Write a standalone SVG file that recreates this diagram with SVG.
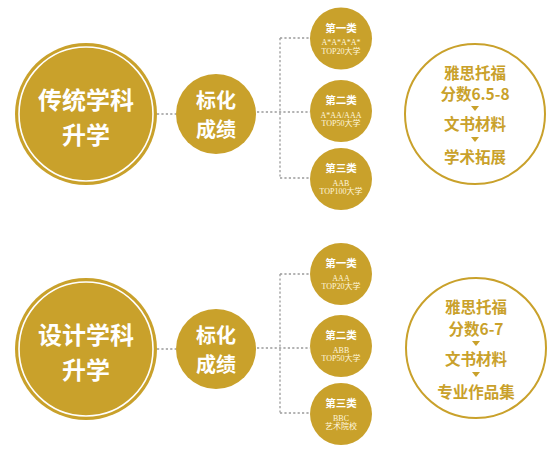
<svg xmlns="http://www.w3.org/2000/svg" width="560" height="454" viewBox="0 0 560 454">
<style>
.gold{fill:#C9A12B}
.ring{fill:none;stroke:#FFFFFF;stroke-width:1.6}
.outline{fill:#FFFFFF;stroke:#C9A12B;stroke-width:2}
.dot{fill:none;stroke:#9A9A9A;stroke-width:1.3;stroke-dasharray:2.2 2.2}
.big{font-family:"Noto Sans CJK SC",sans-serif;font-weight:700;font-size:24px;fill:#FFFFFF;text-anchor:middle;dominant-baseline:central}
.mid{font-family:"Noto Sans CJK SC",sans-serif;font-weight:700;font-size:20px;fill:#FFFFFF;text-anchor:middle;dominant-baseline:central}
.st{font-family:"Noto Sans CJK SC",sans-serif;font-weight:700;font-size:10.5px;fill:#FFFFFF;text-anchor:middle;dominant-baseline:central}
.ss{font-family:"Liberation Serif","Noto Sans CJK SC",serif;font-size:8px;fill:#FFF6DD;text-anchor:middle;dominant-baseline:central}
.rt{font-family:"Noto Sans CJK SC",sans-serif;font-weight:700;font-size:15.5px;fill:#C9A12B;text-anchor:middle;dominant-baseline:central}
.tri{fill:#C9A12B}
</style>
<g id="connectors">
<line class="dot" x1="157" y1="114" x2="176" y2="114"/>
<line class="dot" x1="257" y1="112" x2="310" y2="112"/>
<line class="dot" x1="280" y1="38" x2="280" y2="178"/>
<line class="dot" x1="280" y1="38" x2="310" y2="38"/>
<line class="dot" x1="280" y1="178" x2="310" y2="178"/>
<line class="dot" x1="157" y1="349" x2="176" y2="349"/>
<line class="dot" x1="257" y1="348" x2="310" y2="348"/>
<line class="dot" x1="280" y1="274" x2="280" y2="413"/>
<line class="dot" x1="280" y1="274" x2="310" y2="274"/>
<line class="dot" x1="280" y1="413" x2="310" y2="413"/>
</g>
<g id="node-traditional">
<circle class="gold" cx="86" cy="114" r="71"/>
<circle class="ring" cx="86" cy="114" r="67"/>
<text class="big" x="86" y="98">传统学科</text>
<text class="big" x="86" y="133">升学</text>
</g>
<g id="node-standard1">
<circle class="gold" cx="216" cy="114" r="40"/>
<text class="mid" x="216" y="99">标化</text>
<text class="mid" x="216" y="128">成绩</text>
</g>
<g id="node-t1">
<circle class="gold" cx="341" cy="38.5" r="31"/>
<text class="st" x="341" y="27">第一类</text>
<text class="ss" x="341" y="42.5">A*A*A*A*</text>
<text class="ss" x="341" y="51">TOP20大学</text>
</g>
<g id="node-t2">
<circle class="gold" cx="341" cy="111" r="31"/>
<text class="st" x="341" y="99.5">第二类</text>
<text class="ss" x="341" y="115">A*AA/AAA</text>
<text class="ss" x="341" y="123.5">TOP50大学</text>
</g>
<g id="node-t3">
<circle class="gold" cx="341" cy="179" r="31"/>
<text class="st" x="341" y="167.5">第三类</text>
<text class="ss" x="341" y="183">AAB</text>
<text class="ss" x="341" y="191.5">TOP100大学</text>
</g>
<g id="node-req1">
<circle class="outline" cx="475" cy="114" r="70"/>
<text class="rt" x="475" y="72">雅思托福</text>
<text class="rt" x="475" y="93">分数6.5-8</text>
<polygon class="tri" points="471,106 479,106 475,111"/>
<text class="rt" x="475" y="123">文书材料</text>
<polygon class="tri" points="471,137 479,137 475,142"/>
<text class="rt" x="475" y="156">学术拓展</text>
</g>
<g id="node-design">
<circle class="gold" cx="86" cy="349" r="71"/>
<circle class="ring" cx="86" cy="349" r="67"/>
<text class="big" x="86" y="333">设计学科</text>
<text class="big" x="86" y="368">升学</text>
</g>
<g id="node-standard2">
<circle class="gold" cx="216" cy="349" r="40"/>
<text class="mid" x="216" y="334">标化</text>
<text class="mid" x="216" y="363">成绩</text>
</g>
<g id="node-d1">
<circle class="gold" cx="341" cy="274" r="31"/>
<text class="st" x="341" y="262.5">第一类</text>
<text class="ss" x="341" y="278">AAA</text>
<text class="ss" x="341" y="286.5">TOP20大学</text>
</g>
<g id="node-d2">
<circle class="gold" cx="341" cy="346" r="31"/>
<text class="st" x="341" y="334.5">第二类</text>
<text class="ss" x="341" y="350">ABB</text>
<text class="ss" x="341" y="358.5">TOP50大学</text>
</g>
<g id="node-d3">
<circle class="gold" cx="341" cy="414" r="31"/>
<text class="st" x="341" y="402.5">第三类</text>
<text class="ss" x="341" y="418">BBC</text>
<text class="ss" x="341" y="426.5">艺术院校</text>
</g>
<g id="node-req2">
<circle class="outline" cx="476" cy="348" r="70"/>
<text class="rt" x="476" y="306">雅思托福</text>
<text class="rt" x="476" y="328">分数6-7</text>
<polygon class="tri" points="472,341 480,341 476,346"/>
<text class="rt" x="476" y="358">文书材料</text>
<polygon class="tri" points="472,372 480,372 476,377"/>
<text class="rt" x="476" y="391">专业作品集</text>
</g>
</svg>
